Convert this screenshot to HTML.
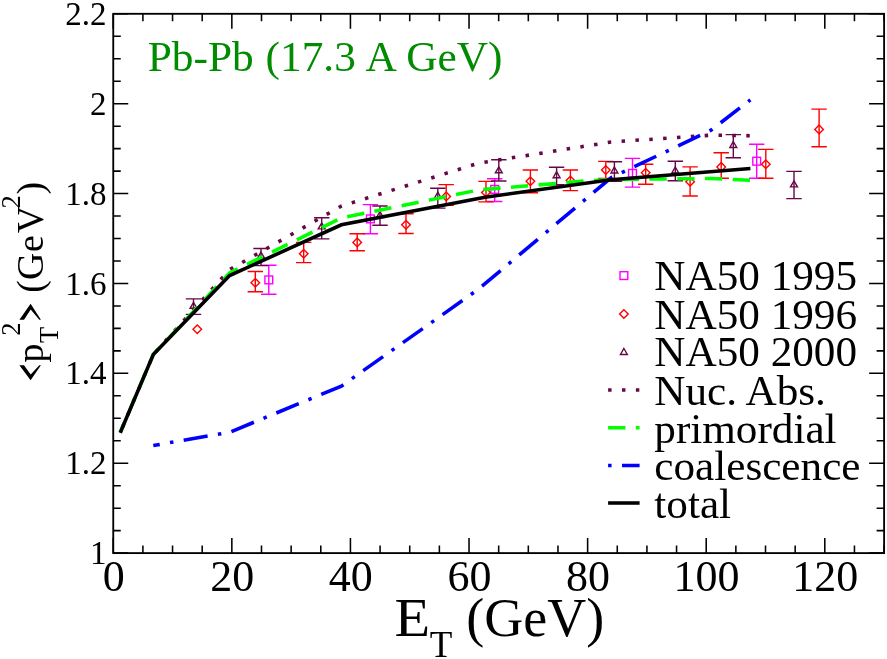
<!DOCTYPE html>
<html><head><meta charset="utf-8"><title>Pb-Pb pT2 vs ET</title>
<style>
html,body{margin:0;padding:0;background:#fff;}
body{width:887px;height:659px;overflow:hidden;font-family:"Liberation Serif", serif;}
svg{display:block;will-change:transform;}
text{font-family:"Liberation Serif", serif;}
</style></head><body>
<svg width="887" height="659" viewBox="0 0 887 659">
<rect x="0" y="0" width="887" height="659" fill="#ffffff"/>
<g id="set-na50-1995">
<path d="M268.80 265.30V294.20M261.10 265.30H276.50M261.10 294.20H276.50" stroke="#ff00ff" stroke-width="1.40" fill="none"/>
<rect x="264.90" y="276.00" width="7.80" height="7.80" stroke="#ff00ff" stroke-width="1.40" fill="none"/>
<path d="M370.40 204.60V233.70M362.70 204.60H378.10M362.70 233.70H378.10" stroke="#ff00ff" stroke-width="1.40" fill="none"/>
<rect x="366.50" y="215.00" width="7.80" height="7.80" stroke="#ff00ff" stroke-width="1.40" fill="none"/>
<path d="M494.70 178.70V201.50M487.00 178.70H502.40M487.00 201.50H502.40" stroke="#ff00ff" stroke-width="1.40" fill="none"/>
<rect x="490.80" y="185.50" width="7.80" height="7.80" stroke="#ff00ff" stroke-width="1.40" fill="none"/>
<path d="M632.50 158.40V187.10M624.80 158.40H640.20M624.80 187.10H640.20" stroke="#ff00ff" stroke-width="1.40" fill="none"/>
<rect x="628.60" y="169.50" width="7.80" height="7.80" stroke="#ff00ff" stroke-width="1.40" fill="none"/>
<path d="M756.70 144.20V178.30M749.00 144.20H764.40M749.00 178.30H764.40" stroke="#ff00ff" stroke-width="1.40" fill="none"/>
<rect x="752.80" y="157.30" width="7.80" height="7.80" stroke="#ff00ff" stroke-width="1.40" fill="none"/>
</g>
<g id="set-na50-1996">
<path d="M197.30 324.90L201.60 329.20L197.30 333.50L193.00 329.20Z" stroke="#ff0000" stroke-width="1.40" fill="none"/>
<path d="M255.30 271.50V291.80M247.60 271.50H263.00M247.60 291.80H263.00" stroke="#ff0000" stroke-width="1.40" fill="none"/>
<path d="M255.30 278.50L259.60 282.80L255.30 287.10L251.00 282.80Z" stroke="#ff0000" stroke-width="1.40" fill="none"/>
<path d="M303.70 242.40V262.60M296.00 242.40H311.40M296.00 262.60H311.40" stroke="#ff0000" stroke-width="1.40" fill="none"/>
<path d="M303.70 249.40L308.00 253.70L303.70 258.00L299.40 253.70Z" stroke="#ff0000" stroke-width="1.40" fill="none"/>
<path d="M357.20 233.70V250.80M349.50 233.70H364.90M349.50 250.80H364.90" stroke="#ff0000" stroke-width="1.40" fill="none"/>
<path d="M357.20 238.10L361.50 242.40L357.20 246.70L352.90 242.40Z" stroke="#ff0000" stroke-width="1.40" fill="none"/>
<path d="M406.00 213.80V233.50M398.30 213.80H413.70M398.30 233.50H413.70" stroke="#ff0000" stroke-width="1.40" fill="none"/>
<path d="M406.00 220.50L410.30 224.80L406.00 229.10L401.70 224.80Z" stroke="#ff0000" stroke-width="1.40" fill="none"/>
<path d="M446.20 184.60V205.20M438.50 184.60H453.90M438.50 205.20H453.90" stroke="#ff0000" stroke-width="1.40" fill="none"/>
<path d="M446.20 192.10L450.50 196.40L446.20 200.70L441.90 196.40Z" stroke="#ff0000" stroke-width="1.40" fill="none"/>
<path d="M486.00 181.40V201.90M478.30 181.40H493.70M478.30 201.90H493.70" stroke="#ff0000" stroke-width="1.40" fill="none"/>
<path d="M486.00 188.10L490.30 192.40L486.00 196.70L481.70 192.40Z" stroke="#ff0000" stroke-width="1.40" fill="none"/>
<path d="M530.40 170.00V192.80M522.70 170.00H538.10M522.70 192.80H538.10" stroke="#ff0000" stroke-width="1.40" fill="none"/>
<path d="M530.40 176.90L534.70 181.20L530.40 185.50L526.10 181.20Z" stroke="#ff0000" stroke-width="1.40" fill="none"/>
<path d="M570.40 170.00V190.60M562.70 170.00H578.10M562.70 190.60H578.10" stroke="#ff0000" stroke-width="1.40" fill="none"/>
<path d="M570.40 176.20L574.70 180.50L570.40 184.80L566.10 180.50Z" stroke="#ff0000" stroke-width="1.40" fill="none"/>
<path d="M605.80 161.40V178.50M598.10 161.40H613.50M598.10 178.50H613.50" stroke="#ff0000" stroke-width="1.40" fill="none"/>
<path d="M605.80 165.70L610.10 170.00L605.80 174.30L601.50 170.00Z" stroke="#ff0000" stroke-width="1.40" fill="none"/>
<path d="M645.70 164.20V184.20M638.00 164.20H653.40M638.00 184.20H653.40" stroke="#ff0000" stroke-width="1.40" fill="none"/>
<path d="M645.70 168.50L650.00 172.80L645.70 177.10L641.40 172.80Z" stroke="#ff0000" stroke-width="1.40" fill="none"/>
<path d="M690.10 166.90V196.00M682.40 166.90H697.80M682.40 196.00H697.80" stroke="#ff0000" stroke-width="1.40" fill="none"/>
<path d="M690.10 177.40L694.40 181.70L690.10 186.00L685.80 181.70Z" stroke="#ff0000" stroke-width="1.40" fill="none"/>
<path d="M721.20 152.80V178.30M713.50 152.80H728.90M713.50 178.30H728.90" stroke="#ff0000" stroke-width="1.40" fill="none"/>
<path d="M721.20 162.60L725.50 166.90L721.20 171.20L716.90 166.90Z" stroke="#ff0000" stroke-width="1.40" fill="none"/>
<path d="M765.80 149.40V178.30M758.10 149.40H773.50M758.10 178.30H773.50" stroke="#ff0000" stroke-width="1.40" fill="none"/>
<path d="M765.80 159.90L770.10 164.20L765.80 168.50L761.50 164.20Z" stroke="#ff0000" stroke-width="1.40" fill="none"/>
<path d="M819.10 109.10V146.70M811.40 109.10H826.80M811.40 146.70H826.80" stroke="#ff0000" stroke-width="1.40" fill="none"/>
<path d="M819.10 125.10L823.40 129.40L819.10 133.70L814.80 129.40Z" stroke="#ff0000" stroke-width="1.40" fill="none"/>
</g>
<g id="set-na50-2000">
<path d="M193.50 298.90V314.40M185.80 298.90H201.20M185.80 314.40H201.20" stroke="#670748" stroke-width="1.40" fill="none"/>
<path d="M193.50 302.32L196.95 308.29L190.05 308.29Z" stroke="#670748" stroke-width="1.40" fill="none"/>
<path d="M261.00 248.50V265.60M253.30 248.50H268.70M253.30 265.60H268.70" stroke="#670748" stroke-width="1.40" fill="none"/>
<path d="M261.00 252.02L264.45 257.99L257.55 257.99Z" stroke="#670748" stroke-width="1.40" fill="none"/>
<path d="M321.70 217.80V238.90M314.00 217.80H329.40M314.00 238.90H329.40" stroke="#670748" stroke-width="1.40" fill="none"/>
<path d="M321.70 222.92L325.15 228.89L318.25 228.89Z" stroke="#670748" stroke-width="1.40" fill="none"/>
<path d="M380.00 206.00V225.30M372.30 206.00H387.70M372.30 225.30H387.70" stroke="#670748" stroke-width="1.40" fill="none"/>
<path d="M380.00 211.52L383.45 217.49L376.55 217.49Z" stroke="#670748" stroke-width="1.40" fill="none"/>
<path d="M437.80 188.30V208.10M430.10 188.30H445.50M430.10 208.10H445.50" stroke="#670748" stroke-width="1.40" fill="none"/>
<path d="M437.80 192.22L441.25 198.19L434.35 198.19Z" stroke="#670748" stroke-width="1.40" fill="none"/>
<path d="M498.80 159.70V181.00M491.10 159.70H506.50M491.10 181.00H506.50" stroke="#670748" stroke-width="1.40" fill="none"/>
<path d="M498.80 166.82L502.25 172.79L495.35 172.79Z" stroke="#670748" stroke-width="1.40" fill="none"/>
<path d="M556.60 167.30V184.80M548.90 167.30H564.30M548.90 184.80H564.30" stroke="#670748" stroke-width="1.40" fill="none"/>
<path d="M556.60 171.72L560.05 177.69L553.15 177.69Z" stroke="#670748" stroke-width="1.40" fill="none"/>
<path d="M614.40 161.70V181.20M606.70 161.70H622.10M606.70 181.20H622.10" stroke="#670748" stroke-width="1.40" fill="none"/>
<path d="M614.40 167.02L617.85 172.99L610.95 172.99Z" stroke="#670748" stroke-width="1.40" fill="none"/>
<path d="M675.30 161.20V180.80M667.60 161.20H683.00M667.60 180.80H683.00" stroke="#670748" stroke-width="1.40" fill="none"/>
<path d="M675.30 167.02L678.75 172.99L671.85 172.99Z" stroke="#670748" stroke-width="1.40" fill="none"/>
<path d="M733.30 134.60V157.80M725.60 134.60H741.00M725.60 157.80H741.00" stroke="#670748" stroke-width="1.40" fill="none"/>
<path d="M733.30 141.52L736.75 147.49L729.85 147.49Z" stroke="#670748" stroke-width="1.40" fill="none"/>
<path d="M794.00 171.40V198.60M786.30 171.40H801.70M786.30 198.60H801.70" stroke="#670748" stroke-width="1.40" fill="none"/>
<path d="M794.00 180.92L797.45 186.89L790.55 186.89Z" stroke="#670748" stroke-width="1.40" fill="none"/>
</g>
<g id="curves">
<path d="M120.20 432.70L153.30 354.50L229.60 269.60L341.30 206.10L478.50 163.20L611.00 142.00L711.00 135.20L750.60 135.70" stroke="#670748" stroke-width="3.55" fill="none" stroke-linejoin="miter" stroke-linecap="butt" stroke-dasharray="3.47 10.41" stroke-dashoffset="8.50"/>
<path d="M120.20 432.70L153.30 354.50L229.60 272.90L341.50 217.90L478.50 190.00L584.00 181.00L611.00 179.50L650.50 179.10L711.00 178.50L750.40 180.30" stroke="#00ff00" stroke-width="3.55" fill="none" stroke-linejoin="miter" stroke-linecap="butt" stroke-dasharray="17.35 10.41" stroke-dashoffset="5.98"/>
<path d="M153.30 445.50L229.60 432.30L341.40 386.10L478.50 289.20L611.00 177.80L711.00 130.20L750.40 99.80" stroke="#0000ff" stroke-width="3.55" fill="none" stroke-linejoin="miter" stroke-linecap="butt" stroke-dasharray="24.29 10.41 3.47 10.41" stroke-dashoffset="17.74"/>
<path d="M120.20 432.70L153.30 354.50L229.60 275.60L341.40 224.80L485.00 197.20L611.00 179.80L750.40 168.60" stroke="#000000" stroke-width="3.55" fill="none" stroke-linejoin="miter" stroke-linecap="butt"/>
</g>
<g id="axes" stroke="#000" fill="none">
<path d="M113.25 553.10V538.10M113.25 13.80V28.80M142.90 553.10V545.60M142.90 13.80V21.30M172.55 553.10V545.60M172.55 13.80V21.30M202.19 553.10V545.60M202.19 13.80V21.30M231.84 553.10V538.10M231.84 13.80V28.80M261.49 553.10V545.60M261.49 13.80V21.30M291.14 553.10V545.60M291.14 13.80V21.30M320.79 553.10V545.60M320.79 13.80V21.30M350.43 553.10V538.10M350.43 13.80V28.80M380.08 553.10V545.60M380.08 13.80V21.30M409.73 553.10V545.60M409.73 13.80V21.30M439.38 553.10V545.60M439.38 13.80V21.30M469.03 553.10V538.10M469.03 13.80V28.80M498.68 553.10V545.60M498.68 13.80V21.30M528.32 553.10V545.60M528.32 13.80V21.30M557.97 553.10V545.60M557.97 13.80V21.30M587.62 553.10V538.10M587.62 13.80V28.80M617.27 553.10V545.60M617.27 13.80V21.30M646.92 553.10V545.60M646.92 13.80V21.30M676.56 553.10V545.60M676.56 13.80V21.30M706.21 553.10V538.10M706.21 13.80V28.80M735.86 553.10V545.60M735.86 13.80V21.30M765.51 553.10V545.60M765.51 13.80V21.30M795.16 553.10V545.60M795.16 13.80V21.30M824.80 553.10V538.10M824.80 13.80V28.80M854.45 553.10V545.60M854.45 13.80V21.30M884.10 553.10V545.60M884.10 13.80V21.30M113.25 553.10H128.25M884.10 553.10H869.10M113.25 530.63H120.75M884.10 530.63H876.60M113.25 508.16H120.75M884.10 508.16H876.60M113.25 485.69H120.75M884.10 485.69H876.60M113.25 463.22H128.25M884.10 463.22H869.10M113.25 440.75H120.75M884.10 440.75H876.60M113.25 418.27H120.75M884.10 418.27H876.60M113.25 395.80H120.75M884.10 395.80H876.60M113.25 373.33H128.25M884.10 373.33H869.10M113.25 350.86H120.75M884.10 350.86H876.60M113.25 328.39H120.75M884.10 328.39H876.60M113.25 305.92H120.75M884.10 305.92H876.60M113.25 283.45H128.25M884.10 283.45H869.10M113.25 260.98H120.75M884.10 260.98H876.60M113.25 238.51H120.75M884.10 238.51H876.60M113.25 216.04H120.75M884.10 216.04H876.60M113.25 193.57H128.25M884.10 193.57H869.10M113.25 171.10H120.75M884.10 171.10H876.60M113.25 148.63H120.75M884.10 148.63H876.60M113.25 126.15H120.75M884.10 126.15H876.60M113.25 103.68H128.25M884.10 103.68H869.10M113.25 81.21H120.75M884.10 81.21H876.60M113.25 58.74H120.75M884.10 58.74H876.60M113.25 36.27H120.75M884.10 36.27H876.60M113.25 13.80H128.25M884.10 13.80H869.10" stroke-width="1.55"/>
<rect x="113.25" y="13.80" width="770.85" height="539.30" stroke-width="1.85"/>
</g>
<g id="ticklabels" fill="#000">
<text x="106.60" y="24.90" font-size="33.00" text-anchor="end">2.2</text>
<text x="106.60" y="114.78" font-size="33.00" text-anchor="end">2</text>
<text x="106.60" y="204.67" font-size="33.00" text-anchor="end">1.8</text>
<text x="106.60" y="294.55" font-size="33.00" text-anchor="end">1.6</text>
<text x="106.60" y="384.43" font-size="33.00" text-anchor="end">1.4</text>
<text x="106.60" y="474.32" font-size="33.00" text-anchor="end">1.2</text>
<text x="106.60" y="564.20" font-size="33.00" text-anchor="end">1</text>
<text x="113.65" y="591.20" font-size="44.00" text-anchor="middle">0</text>
<text x="232.24" y="591.20" font-size="44.00" text-anchor="middle">20</text>
<text x="350.83" y="591.20" font-size="44.00" text-anchor="middle">40</text>
<text x="469.43" y="591.20" font-size="44.00" text-anchor="middle">60</text>
<text x="588.02" y="591.20" font-size="44.00" text-anchor="middle">80</text>
<text x="706.61" y="591.20" font-size="44.00" text-anchor="middle">100</text>
<text x="825.20" y="591.20" font-size="44.00" text-anchor="middle">120</text>
</g>
<g id="xlabel" fill="#000">
<text transform="translate(394.6 636.3) scale(1.08 1)" x="0" y="0" font-size="54.00">E</text>
<text x="429.7" y="656.8" font-size="37.00">T</text>
<text x="466.2" y="636.3" font-size="54.00">(GeV)</text>
</g>
<g id="ylabel" transform="translate(43.40 380.60) rotate(-90)" fill="#000">
<text x="18.00" y="0.00" font-size="37.80">p</text>
<text x="37.62" y="14.60" font-size="26.50">T</text>
<text x="44.83" y="-23.60" font-size="26.50">2</text>
<text x="87.94" y="0.00" font-size="37.80">(</text>
<text x="100.65" y="0.00" font-size="37.80">G</text>
<text x="128.53" y="0.00" font-size="37.80">e</text>
<text x="147.38" y="0.00" font-size="37.80">V</text>
<text x="172.03" y="-23.60" font-size="26.50">2</text>
<text x="186.09" y="0.00" font-size="37.80">)</text>
</g>
<path id="yl-lt" d="M30.6 380.2L19.4 365.2L24.0 365.2L30.7 374.6L39.3 365.2L40.9 365.2Z" fill="#000"/>
<path id="yl-gt" d="M30.6 303.7L19.4 319.8L24.0 319.8L30.7 309.4L39.3 319.8L40.9 319.8Z" fill="#000"/>
<text id="title" transform="translate(147.7 71.2) scale(1.008 1)" x="0" y="0" font-size="43.0" word-spacing="1.1" fill="#008b00">Pb-Pb (17.3 A GeV)</text>
<g id="legend">
<text x="654.30" y="290.20" font-size="43.20" fill="#000">NA50 1995</text>
<text x="654.30" y="328.50" font-size="43.20" fill="#000">NA50 1996</text>
<text x="654.30" y="366.40" font-size="43.20" fill="#000">NA50 2000</text>
<text x="654.30" y="404.60" font-size="43.20" fill="#000">Nuc. Abs.</text>
<text x="654.30" y="442.60" font-size="43.20" fill="#000">primordial</text>
<text x="654.30" y="480.00" font-size="43.20" fill="#000">coalescence</text>
<text x="654.30" y="517.50" font-size="43.20" fill="#000">total</text>
<rect x="620.00" y="271.70" width="7.80" height="7.80" stroke="#ff00ff" stroke-width="1.40" fill="none"/>
<path d="M623.90 309.70L628.20 314.00L623.90 318.30L619.60 314.00Z" stroke="#ff0000" stroke-width="1.40" fill="none"/>
<path d="M623.90 348.52L627.35 354.49L620.45 354.49Z" stroke="#670748" stroke-width="1.40" fill="none"/>
<path d="M608.10 390.00L639.60 390.00" stroke="#670748" stroke-width="3.55" fill="none" stroke-linejoin="miter" stroke-linecap="butt" stroke-dasharray="3.47 10.41"/>
<path d="M608.10 427.70L639.60 427.70" stroke="#00ff00" stroke-width="3.55" fill="none" stroke-linejoin="miter" stroke-linecap="butt" stroke-dasharray="17.35 10.41"/>
<path d="M608.10 465.40L639.60 465.40" stroke="#0000ff" stroke-width="3.55" fill="none" stroke-linejoin="miter" stroke-linecap="butt" stroke-dasharray="24.29 10.41 3.47 10.41" stroke-dashoffset="34.70"/>
<path d="M608.10 503.00L639.60 503.00" stroke="#000000" stroke-width="3.55" fill="none" stroke-linejoin="miter" stroke-linecap="butt"/>
</g>
</svg>
</body></html>
